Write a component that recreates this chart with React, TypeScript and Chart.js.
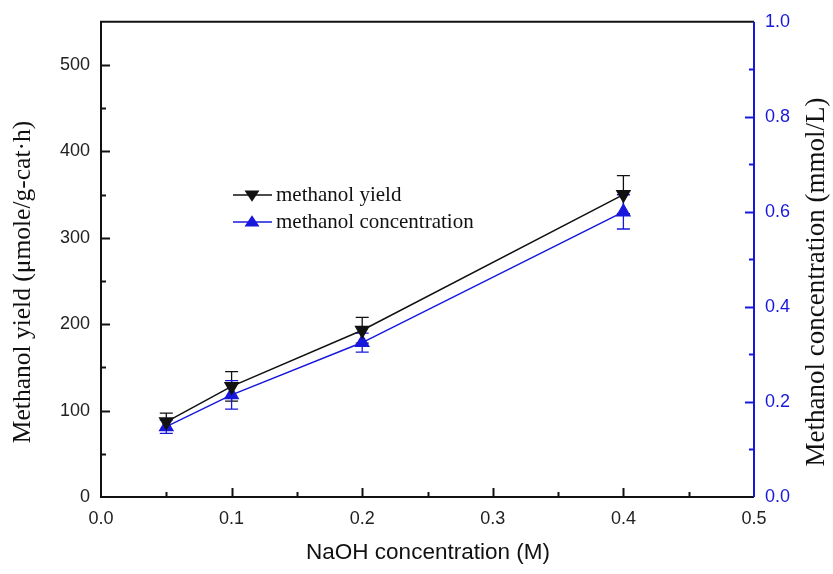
import React, { useEffect, useRef } from "react";
import { Chart, registerables } from "chart.js";

Chart.register(...registerables);

const naohConcentrations = [0.05, 0.1, 0.2, 0.4];
const yieldValues = [87, 128, 193, 350];
const yieldErrors = [10, 17, 15, 22];
const concValues = [0.148, 0.215, 0.325, 0.6];
const concErrors = [0.014, 0.03, 0.02, 0.036];

const leftTicks = [0, 100, 200, 300, 400, 500];
const rightTicks = [0, 0.2, 0.4, 0.6, 0.8, 1.0];
const xTicks = [0, 0.1, 0.2, 0.3, 0.4, 0.5];

const BLACK = "#111111";
const BLUE = "rgb(24,24,220)";
const SANS = '"Liberation Sans", Arial, sans-serif';
const SERIF = '"Liberation Serif", "Times New Roman", serif';

const decorPlugin = {
  id: "decor",
  beforeDatasetsDraw(chart: any) {
    const ctx = chart.ctx;
    const xs = chart.scales.x;
    const sets = [
      { scale: chart.scales.y, vals: yieldValues, errs: yieldErrors, color: BLACK },
      { scale: chart.scales.y1, vals: concValues, errs: concErrors, color: BLUE },
    ];
    ctx.save();
    ctx.lineWidth = 1.3;
    sets.forEach((s) => {
      ctx.strokeStyle = s.color;
      s.vals.forEach((v, i) => {
        const px = xs.getPixelForValue(naohConcentrations[i]);
        const top = s.scale.getPixelForValue(v + s.errs[i]);
        const bot = s.scale.getPixelForValue(v - s.errs[i]);
        ctx.beginPath();
        ctx.moveTo(px, top);
        ctx.lineTo(px, bot);
        ctx.moveTo(px - 6.5, top);
        ctx.lineTo(px + 6.5, top);
        ctx.moveTo(px - 6.5, bot);
        ctx.lineTo(px + 6.5, bot);
        ctx.stroke();
      });
    });
    ctx.restore();
  },
  afterDraw(chart: any) {
    const ctx = chart.ctx;
    const { left, right, top, bottom } = chart.chartArea;
    const xs = chart.scales.x;
    const ys = chart.scales.y;
    const y1 = chart.scales.y1;
    ctx.save();
    ctx.lineWidth = 2;
    ctx.strokeStyle = BLACK;
    ctx.beginPath();
    ctx.moveTo(right, top);
    ctx.lineTo(left, top);
    ctx.lineTo(left, bottom);
    ctx.lineTo(right, bottom);
    ctx.stroke();
    for (let v = 50; v < 550; v += 50) {
      const py = Math.round(ys.getPixelForValue(v)) + 0.5;
      const len = v % 100 === 0 ? 9 : 5;
      ctx.beginPath();
      ctx.moveTo(left, py);
      ctx.lineTo(left + len, py);
      ctx.stroke();
    }
    for (let i = 1; i < 10; i++) {
      const v = i * 0.05;
      const px = Math.round(xs.getPixelForValue(v)) + 0.5;
      const len = i % 2 === 0 ? 9 : 5;
      ctx.beginPath();
      ctx.moveTo(px, bottom);
      ctx.lineTo(px, bottom - len);
      ctx.stroke();
    }
    ctx.strokeStyle = BLUE;
    ctx.beginPath();
    ctx.moveTo(right, top);
    ctx.lineTo(right, bottom);
    ctx.stroke();
    for (let i = 1; i < 10; i++) {
      const v = i * 0.1;
      const py = Math.round(y1.getPixelForValue(v)) + 0.5;
      const len = i % 2 === 0 ? 9 : 5;
      ctx.beginPath();
      ctx.moveTo(right, py);
      ctx.lineTo(right - len, py);
      ctx.stroke();
    }
    ctx.fillStyle = "#111";
    ctx.textAlign = "center";
    ctx.textBaseline = "middle";
    ctx.font = `22.5px ${SANS}`;
    ctx.fillText("NaOH concentration (M)", 428, 553);
    ctx.font = `25.5px ${SERIF}`;
    ctx.save();
    ctx.translate(23, 282);
    ctx.rotate(-Math.PI / 2);
    ctx.fillText("Methanol yield (\u03bcmole/g-cat\u00b7h)", 0, 0);
    ctx.restore();
    ctx.font = `27px ${SERIF}`;
    ctx.save();
    ctx.translate(817, 282);
    ctx.rotate(-Math.PI / 2);
    ctx.fillText("Methanol concentration (mmol/L)", 0, 0);
    ctx.restore();
    const items = [
      { label: "methanol yield", color: BLACK, down: true, y: 195 },
      { label: "methanol concentration", color: BLUE, down: false, y: 222 },
    ];
    items.forEach((it) => {
      ctx.strokeStyle = it.color;
      ctx.fillStyle = it.color;
      ctx.lineWidth = 1.5;
      ctx.beginPath();
      ctx.moveTo(233, it.y);
      ctx.lineTo(272, it.y);
      ctx.stroke();
      const cx = 252;
      const r = 7.5;
      ctx.beginPath();
      if (it.down) {
        ctx.moveTo(cx - r, it.y - r * 0.6);
        ctx.lineTo(cx + r, it.y - r * 0.6);
        ctx.lineTo(cx, it.y + r * 0.9);
      } else {
        ctx.moveTo(cx - r, it.y + r * 0.6);
        ctx.lineTo(cx + r, it.y + r * 0.6);
        ctx.lineTo(cx, it.y - r * 0.9);
      }
      ctx.closePath();
      ctx.fill();
      ctx.fillStyle = "#111";
      ctx.textAlign = "left";
      ctx.font = `21px ${SERIF}`;
      ctx.fillText(it.label, 276, it.y);
    });
    ctx.restore();
  },
};

export default function App() {
  const ref = useRef<HTMLCanvasElement | null>(null);
  useEffect(() => {
    if (!ref.current) return;
    const chart = new Chart(ref.current, {
      type: "line",
      data: {
        datasets: [
          {
            label: "methanol yield",
            data: naohConcentrations.map((x, i) => ({ x, y: yieldValues[i] })),
            yAxisID: "y",
            borderColor: BLACK,
            backgroundColor: BLACK,
            borderWidth: 1.5,
            pointStyle: "triangle",
            rotation: 180,
            pointRadius: 9,
            pointBorderWidth: 0,
          },
          {
            label: "methanol concentration",
            data: naohConcentrations.map((x, i) => ({ x, y: concValues[i] })),
            yAxisID: "y1",
            borderColor: BLUE,
            backgroundColor: BLUE,
            borderWidth: 1.5,
            pointStyle: "triangle",
            pointRadius: 9,
            pointBorderWidth: 0,
          },
        ],
      },
      options: {
        responsive: false,
        animation: false,
        devicePixelRatio: 1,
        layout: { padding: { top: 20, left: 0, right: 0, bottom: 0 } },
        plugins: { legend: { display: false }, tooltip: { enabled: false } },
        scales: {
          x: {
            type: "linear",
            min: 0,
            max: 0.5,
            grid: { display: false, drawTicks: false },
            border: { display: false },
            afterBuildTicks: (s: any) => {
              s.ticks = xTicks.map((v) => ({ value: v }));
            },
            afterFit: (s: any) => {
              s.height = 77;
            },
            ticks: {
              padding: 11,
              color: "#222",
              font: { family: SANS, size: 18 },
              callback: (v: any) => Number(v).toFixed(1),
            },
          },
          y: {
            type: "linear",
            position: "left",
            min: 0,
            max: 550,
            grid: { display: false, drawTicks: false },
            border: { display: false },
            afterBuildTicks: (s: any) => {
              s.ticks = leftTicks.map((v) => ({ value: v }));
            },
            afterFit: (s: any) => {
              s.width = 101;
            },
            ticks: {
              padding: 11,
              color: "#222",
              font: { family: SANS, size: 18 },
            },
          },
          y1: {
            type: "linear",
            position: "right",
            min: 0,
            max: 1.0,
            grid: { display: false, drawTicks: false },
            border: { display: false },
            afterBuildTicks: (s: any) => {
              s.ticks = rightTicks.map((v) => ({ value: v }));
            },
            afterFit: (s: any) => {
              s.width = 79;
            },
            ticks: {
              padding: 11,
              color: BLUE,
              font: { family: SANS, size: 18 },
              callback: (v: any) => Number(v).toFixed(1),
            },
          },
        },
      },
      plugins: [decorPlugin],
    } as any);
    return () => chart.destroy();
  }, []);
  return (
    <div style={{ position: "fixed", left: 0, top: 0, width: 833, height: 574, background: "#fff" }}>
      <canvas ref={ref} width={833} height={574} style={{ display: "block" }} />
    </div>
  );
}
